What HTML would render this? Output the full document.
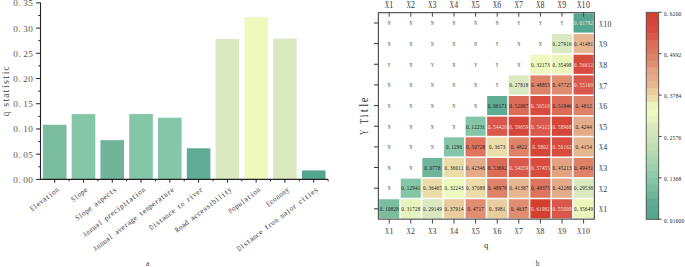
<!DOCTYPE html>
<html><head><meta charset="utf-8"><style>
html,body{margin:0;padding:0;background:#fff;}
body{width:685px;height:267px;overflow:hidden;}
svg{display:block;font-family:"Liberation Serif", serif;}
</style></head><body>
<svg width="685" height="267" viewBox="0 0 685 267">
<rect width="685" height="267" fill="#fff"/>
<rect x="42.90" y="124.78" width="23.6" height="54.62" fill="#7abd9d"/>
<rect x="71.68" y="114.13" width="23.6" height="65.27" fill="#84c6a7"/>
<rect x="100.46" y="140.16" width="23.6" height="39.24" fill="#70b49a"/>
<rect x="129.24" y="114.03" width="23.6" height="65.37" fill="#84c6a7"/>
<rect x="158.02" y="117.71" width="23.6" height="61.69" fill="#84c6a7"/>
<rect x="186.80" y="148.27" width="23.6" height="31.13" fill="#5fab94"/>
<rect x="215.58" y="39.09" width="23.6" height="140.31" fill="#dbe9c0"/>
<rect x="244.36" y="17.12" width="23.6" height="162.28" fill="#eef9be"/>
<rect x="273.14" y="38.59" width="23.6" height="140.81" fill="#dbe9c0"/>
<rect x="301.92" y="170.41" width="23.6" height="8.99" fill="#55a690"/>
<line x1="40.5" y1="2.6" x2="40.5" y2="179.9" stroke="#222" stroke-width="1.1"/>
<line x1="40.0" y1="179.4" x2="328.11" y2="179.4" stroke="#222" stroke-width="1.1"/>
<line x1="36.1" y1="179.40" x2="40.5" y2="179.40" stroke="#222" stroke-width="1"/>
<g transform="translate(33.00,182.90)" font-size="8.0" text-anchor="middle" fill="#555"><text transform="translate(-17.50,0) scale(1.150,1)">0</text><text transform="translate(-13.60,0) scale(1.200,1)">.</text><text transform="translate(-7.50,0) scale(1.150,1)">0</text><text transform="translate(-2.50,0) scale(1.150,1)">0</text></g>
<line x1="38.3" y1="166.79" x2="40.5" y2="166.79" stroke="#222" stroke-width="1"/>
<line x1="36.1" y1="154.18" x2="40.5" y2="154.18" stroke="#222" stroke-width="1"/>
<g transform="translate(33.00,157.68)" font-size="8.0" text-anchor="middle" fill="#555"><text transform="translate(-17.50,0) scale(1.150,1)">0</text><text transform="translate(-13.60,0) scale(1.200,1)">.</text><text transform="translate(-7.50,0) scale(1.150,1)">0</text><text transform="translate(-2.50,0) scale(1.150,1)">5</text></g>
<line x1="38.3" y1="141.57" x2="40.5" y2="141.57" stroke="#222" stroke-width="1"/>
<line x1="36.1" y1="128.96" x2="40.5" y2="128.96" stroke="#222" stroke-width="1"/>
<g transform="translate(33.00,132.46)" font-size="8.0" text-anchor="middle" fill="#555"><text transform="translate(-17.50,0) scale(1.150,1)">0</text><text transform="translate(-13.60,0) scale(1.200,1)">.</text><text transform="translate(-7.50,0) scale(1.150,1)">1</text><text transform="translate(-2.50,0) scale(1.150,1)">0</text></g>
<line x1="38.3" y1="116.35" x2="40.5" y2="116.35" stroke="#222" stroke-width="1"/>
<line x1="36.1" y1="103.74" x2="40.5" y2="103.74" stroke="#222" stroke-width="1"/>
<g transform="translate(33.00,107.24)" font-size="8.0" text-anchor="middle" fill="#555"><text transform="translate(-17.50,0) scale(1.150,1)">0</text><text transform="translate(-13.60,0) scale(1.200,1)">.</text><text transform="translate(-7.50,0) scale(1.150,1)">1</text><text transform="translate(-2.50,0) scale(1.150,1)">5</text></g>
<line x1="38.3" y1="91.13" x2="40.5" y2="91.13" stroke="#222" stroke-width="1"/>
<line x1="36.1" y1="78.52" x2="40.5" y2="78.52" stroke="#222" stroke-width="1"/>
<g transform="translate(33.00,82.02)" font-size="8.0" text-anchor="middle" fill="#555"><text transform="translate(-17.50,0) scale(1.150,1)">0</text><text transform="translate(-13.60,0) scale(1.200,1)">.</text><text transform="translate(-7.50,0) scale(1.150,1)">2</text><text transform="translate(-2.50,0) scale(1.150,1)">0</text></g>
<line x1="38.3" y1="65.91" x2="40.5" y2="65.91" stroke="#222" stroke-width="1"/>
<line x1="36.1" y1="53.30" x2="40.5" y2="53.30" stroke="#222" stroke-width="1"/>
<g transform="translate(33.00,56.80)" font-size="8.0" text-anchor="middle" fill="#555"><text transform="translate(-17.50,0) scale(1.150,1)">0</text><text transform="translate(-13.60,0) scale(1.200,1)">.</text><text transform="translate(-7.50,0) scale(1.150,1)">2</text><text transform="translate(-2.50,0) scale(1.150,1)">5</text></g>
<line x1="38.3" y1="40.69" x2="40.5" y2="40.69" stroke="#222" stroke-width="1"/>
<line x1="36.1" y1="28.08" x2="40.5" y2="28.08" stroke="#222" stroke-width="1"/>
<g transform="translate(33.00,31.58)" font-size="8.0" text-anchor="middle" fill="#555"><text transform="translate(-17.50,0) scale(1.150,1)">0</text><text transform="translate(-13.60,0) scale(1.200,1)">.</text><text transform="translate(-7.50,0) scale(1.150,1)">3</text><text transform="translate(-2.50,0) scale(1.150,1)">0</text></g>
<line x1="38.3" y1="15.47" x2="40.5" y2="15.47" stroke="#222" stroke-width="1"/>
<line x1="36.1" y1="2.86" x2="40.5" y2="2.86" stroke="#222" stroke-width="1"/>
<g transform="translate(33.00,6.36)" font-size="8.0" text-anchor="middle" fill="#555"><text transform="translate(-17.50,0) scale(1.150,1)">0</text><text transform="translate(-13.60,0) scale(1.200,1)">.</text><text transform="translate(-7.50,0) scale(1.150,1)">3</text><text transform="translate(-2.50,0) scale(1.150,1)">5</text></g>
<line x1="54.70" y1="179.4" x2="54.70" y2="182.70000000000002" stroke="#222" stroke-width="1"/>
<line x1="69.09" y1="179.4" x2="69.09" y2="181.3" stroke="#222" stroke-width="1"/>
<line x1="83.48" y1="179.4" x2="83.48" y2="182.70000000000002" stroke="#222" stroke-width="1"/>
<line x1="97.87" y1="179.4" x2="97.87" y2="181.3" stroke="#222" stroke-width="1"/>
<line x1="112.26" y1="179.4" x2="112.26" y2="182.70000000000002" stroke="#222" stroke-width="1"/>
<line x1="126.65" y1="179.4" x2="126.65" y2="181.3" stroke="#222" stroke-width="1"/>
<line x1="141.04" y1="179.4" x2="141.04" y2="182.70000000000002" stroke="#222" stroke-width="1"/>
<line x1="155.43" y1="179.4" x2="155.43" y2="181.3" stroke="#222" stroke-width="1"/>
<line x1="169.82" y1="179.4" x2="169.82" y2="182.70000000000002" stroke="#222" stroke-width="1"/>
<line x1="184.21" y1="179.4" x2="184.21" y2="181.3" stroke="#222" stroke-width="1"/>
<line x1="198.60" y1="179.4" x2="198.60" y2="182.70000000000002" stroke="#222" stroke-width="1"/>
<line x1="212.99" y1="179.4" x2="212.99" y2="181.3" stroke="#222" stroke-width="1"/>
<line x1="227.38" y1="179.4" x2="227.38" y2="182.70000000000002" stroke="#222" stroke-width="1"/>
<line x1="241.77" y1="179.4" x2="241.77" y2="181.3" stroke="#222" stroke-width="1"/>
<line x1="256.16" y1="179.4" x2="256.16" y2="182.70000000000002" stroke="#222" stroke-width="1"/>
<line x1="270.55" y1="179.4" x2="270.55" y2="181.3" stroke="#222" stroke-width="1"/>
<line x1="284.94" y1="179.4" x2="284.94" y2="182.70000000000002" stroke="#222" stroke-width="1"/>
<line x1="299.33" y1="179.4" x2="299.33" y2="181.3" stroke="#222" stroke-width="1"/>
<line x1="313.72" y1="179.4" x2="313.72" y2="182.70000000000002" stroke="#222" stroke-width="1"/>
<line x1="328.11" y1="179.4" x2="328.11" y2="181.3" stroke="#222" stroke-width="1"/>
<g transform="translate(59.50,190.60) rotate(-37.5)" font-size="7.6" text-anchor="middle" fill="#3a3a3a"><text transform="translate(-32.73,0) scale(0.763,1)">E</text><text transform="translate(-28.88,0) scale(1.100,1)">l</text><text transform="translate(-25.02,0) scale(1.050,1)">e</text><text transform="translate(-21.17,0) scale(0.932,1)">v</text><text transform="translate(-17.32,0) scale(1.050,1)">a</text><text transform="translate(-13.47,0) scale(1.100,1)">t</text><text transform="translate(-9.62,0) scale(1.100,1)">i</text><text transform="translate(-5.77,0) scale(0.932,1)">o</text><text transform="translate(-1.92,0) scale(0.932,1)">n</text></g>
<g transform="translate(88.28,190.60) rotate(-37.5)" font-size="7.6" text-anchor="middle" fill="#3a3a3a"><text transform="translate(-17.32,0) scale(0.838,1)">S</text><text transform="translate(-13.47,0) scale(1.100,1)">l</text><text transform="translate(-9.62,0) scale(0.932,1)">o</text><text transform="translate(-5.78,0) scale(0.932,1)">p</text><text transform="translate(-1.93,0) scale(1.050,1)">e</text></g>
<g transform="translate(117.06,190.60) rotate(-37.5)" font-size="7.6" text-anchor="middle" fill="#3a3a3a"><text transform="translate(-48.13,0) scale(0.838,1)">S</text><text transform="translate(-44.28,0) scale(1.100,1)">l</text><text transform="translate(-40.43,0) scale(0.932,1)">o</text><text transform="translate(-36.58,0) scale(0.932,1)">p</text><text transform="translate(-32.73,0) scale(1.050,1)">e</text><text transform="translate(-25.03,0) scale(1.050,1)">a</text><text transform="translate(-21.18,0) scale(1.100,1)">s</text><text transform="translate(-17.33,0) scale(0.932,1)">p</text><text transform="translate(-13.48,0) scale(1.050,1)">e</text><text transform="translate(-9.62,0) scale(1.050,1)">c</text><text transform="translate(-5.78,0) scale(1.100,1)">t</text><text transform="translate(-1.93,0) scale(1.100,1)">s</text></g>
<g transform="translate(145.84,190.60) rotate(-37.5)" font-size="7.6" text-anchor="middle" fill="#3a3a3a"><text transform="translate(-75.08,0) scale(0.645,1)">A</text><text transform="translate(-71.22,0) scale(0.932,1)">n</text><text transform="translate(-67.38,0) scale(0.932,1)">n</text><text transform="translate(-63.52,0) scale(0.932,1)">u</text><text transform="translate(-59.67,0) scale(1.050,1)">a</text><text transform="translate(-55.83,0) scale(1.100,1)">l</text><text transform="translate(-48.12,0) scale(0.932,1)">p</text><text transform="translate(-44.27,0) scale(1.100,1)">r</text><text transform="translate(-40.42,0) scale(1.050,1)">e</text><text transform="translate(-36.57,0) scale(1.050,1)">c</text><text transform="translate(-32.73,0) scale(1.100,1)">i</text><text transform="translate(-28.88,0) scale(0.932,1)">p</text><text transform="translate(-25.02,0) scale(1.100,1)">i</text><text transform="translate(-21.17,0) scale(1.100,1)">t</text><text transform="translate(-17.32,0) scale(1.050,1)">a</text><text transform="translate(-13.48,0) scale(1.100,1)">t</text><text transform="translate(-9.62,0) scale(1.100,1)">i</text><text transform="translate(-5.77,0) scale(0.932,1)">o</text><text transform="translate(-1.92,0) scale(0.932,1)">n</text></g>
<g transform="translate(174.62,190.60) rotate(-37.5)" font-size="7.6" text-anchor="middle" fill="#3a3a3a"><text transform="translate(-98.18,0) scale(0.645,1)">A</text><text transform="translate(-94.33,0) scale(0.932,1)">n</text><text transform="translate(-90.48,0) scale(0.932,1)">n</text><text transform="translate(-86.63,0) scale(0.932,1)">u</text><text transform="translate(-82.78,0) scale(1.050,1)">a</text><text transform="translate(-78.93,0) scale(1.100,1)">l</text><text transform="translate(-71.23,0) scale(1.050,1)">a</text><text transform="translate(-67.38,0) scale(0.932,1)">v</text><text transform="translate(-63.53,0) scale(1.050,1)">e</text><text transform="translate(-59.68,0) scale(1.100,1)">r</text><text transform="translate(-55.83,0) scale(1.050,1)">a</text><text transform="translate(-51.98,0) scale(0.932,1)">g</text><text transform="translate(-48.13,0) scale(1.050,1)">e</text><text transform="translate(-40.43,0) scale(1.100,1)">t</text><text transform="translate(-36.58,0) scale(1.050,1)">e</text><text transform="translate(-32.73,0) scale(0.599,1)">m</text><text transform="translate(-28.88,0) scale(0.932,1)">p</text><text transform="translate(-25.03,0) scale(1.050,1)">e</text><text transform="translate(-21.18,0) scale(1.100,1)">r</text><text transform="translate(-17.33,0) scale(1.050,1)">a</text><text transform="translate(-13.48,0) scale(1.100,1)">t</text><text transform="translate(-9.62,0) scale(0.932,1)">u</text><text transform="translate(-5.78,0) scale(1.100,1)">r</text><text transform="translate(-1.93,0) scale(1.050,1)">e</text></g>
<g transform="translate(203.40,190.60) rotate(-37.5)" font-size="7.6" text-anchor="middle" fill="#3a3a3a"><text transform="translate(-63.53,0) scale(0.645,1)">D</text><text transform="translate(-59.68,0) scale(1.100,1)">i</text><text transform="translate(-55.83,0) scale(1.100,1)">s</text><text transform="translate(-51.98,0) scale(1.100,1)">t</text><text transform="translate(-48.12,0) scale(1.050,1)">a</text><text transform="translate(-44.28,0) scale(0.932,1)">n</text><text transform="translate(-40.42,0) scale(1.050,1)">c</text><text transform="translate(-36.58,0) scale(1.050,1)">e</text><text transform="translate(-28.88,0) scale(1.100,1)">t</text><text transform="translate(-25.02,0) scale(0.932,1)">o</text><text transform="translate(-17.33,0) scale(1.100,1)">r</text><text transform="translate(-13.48,0) scale(1.100,1)">i</text><text transform="translate(-9.62,0) scale(0.932,1)">v</text><text transform="translate(-5.77,0) scale(1.050,1)">e</text><text transform="translate(-1.93,0) scale(1.100,1)">r</text></g>
<g transform="translate(232.18,190.60) rotate(-37.5)" font-size="7.6" text-anchor="middle" fill="#3a3a3a"><text transform="translate(-67.38,0) scale(0.699,1)">R</text><text transform="translate(-63.52,0) scale(0.932,1)">o</text><text transform="translate(-59.67,0) scale(1.050,1)">a</text><text transform="translate(-55.82,0) scale(0.932,1)">d</text><text transform="translate(-48.12,0) scale(1.050,1)">a</text><text transform="translate(-44.27,0) scale(1.050,1)">c</text><text transform="translate(-40.42,0) scale(1.050,1)">c</text><text transform="translate(-36.57,0) scale(1.050,1)">e</text><text transform="translate(-32.72,0) scale(1.100,1)">s</text><text transform="translate(-28.87,0) scale(1.100,1)">s</text><text transform="translate(-25.02,0) scale(1.100,1)">i</text><text transform="translate(-21.17,0) scale(0.932,1)">b</text><text transform="translate(-17.32,0) scale(1.100,1)">i</text><text transform="translate(-13.47,0) scale(1.100,1)">l</text><text transform="translate(-9.62,0) scale(1.100,1)">i</text><text transform="translate(-5.77,0) scale(1.100,1)">t</text><text transform="translate(-1.92,0) scale(0.932,1)">y</text></g>
<g transform="translate(260.96,190.60) rotate(-37.5)" font-size="7.6" text-anchor="middle" fill="#3a3a3a"><text transform="translate(-36.58,0) scale(0.838,1)">P</text><text transform="translate(-32.73,0) scale(0.932,1)">o</text><text transform="translate(-28.88,0) scale(0.932,1)">p</text><text transform="translate(-25.02,0) scale(0.932,1)">u</text><text transform="translate(-21.18,0) scale(1.100,1)">l</text><text transform="translate(-17.32,0) scale(1.050,1)">a</text><text transform="translate(-13.47,0) scale(1.100,1)">t</text><text transform="translate(-9.62,0) scale(1.100,1)">i</text><text transform="translate(-5.77,0) scale(0.932,1)">o</text><text transform="translate(-1.92,0) scale(0.932,1)">n</text></g>
<g transform="translate(289.74,190.60) rotate(-37.5)" font-size="7.6" text-anchor="middle" fill="#3a3a3a"><text transform="translate(-25.02,0) scale(0.763,1)">E</text><text transform="translate(-21.17,0) scale(1.050,1)">c</text><text transform="translate(-17.32,0) scale(0.932,1)">o</text><text transform="translate(-13.47,0) scale(0.932,1)">n</text><text transform="translate(-9.62,0) scale(0.932,1)">o</text><text transform="translate(-5.77,0) scale(0.599,1)">m</text><text transform="translate(-1.92,0) scale(0.932,1)">y</text></g>
<g transform="translate(318.52,190.60) rotate(-37.5)" font-size="7.6" text-anchor="middle" fill="#3a3a3a"><text transform="translate(-98.18,0) scale(0.645,1)">D</text><text transform="translate(-94.33,0) scale(1.100,1)">i</text><text transform="translate(-90.48,0) scale(1.100,1)">s</text><text transform="translate(-86.63,0) scale(1.100,1)">t</text><text transform="translate(-82.78,0) scale(1.050,1)">a</text><text transform="translate(-78.93,0) scale(0.932,1)">n</text><text transform="translate(-75.08,0) scale(1.050,1)">c</text><text transform="translate(-71.23,0) scale(1.050,1)">e</text><text transform="translate(-63.53,0) scale(1.100,1)">f</text><text transform="translate(-59.68,0) scale(1.100,1)">r</text><text transform="translate(-55.83,0) scale(0.932,1)">o</text><text transform="translate(-51.98,0) scale(0.599,1)">m</text><text transform="translate(-44.28,0) scale(0.599,1)">m</text><text transform="translate(-40.43,0) scale(1.050,1)">a</text><text transform="translate(-36.58,0) scale(1.100,1)">j</text><text transform="translate(-32.73,0) scale(0.932,1)">o</text><text transform="translate(-28.88,0) scale(1.100,1)">r</text><text transform="translate(-21.18,0) scale(1.050,1)">c</text><text transform="translate(-17.33,0) scale(1.100,1)">i</text><text transform="translate(-13.48,0) scale(1.100,1)">t</text><text transform="translate(-9.62,0) scale(1.100,1)">i</text><text transform="translate(-5.78,0) scale(1.050,1)">e</text><text transform="translate(-1.93,0) scale(1.100,1)">s</text></g>
<g transform="translate(9.40,91.10) rotate(-90)" font-size="10.0" text-anchor="middle" fill="#444"><text transform="translate(-22.75,0) scale(0.837,1)">q</text><text x="-13.65">s</text><text x="-9.10">t</text><text transform="translate(-4.55,0) scale(0.943,1)">a</text><text x="0.00">t</text><text x="4.55">i</text><text x="9.10">s</text><text x="13.65">t</text><text x="18.20">i</text><text transform="translate(22.75,0) scale(0.943,1)">c</text></g>
<g transform="translate(147.70,266.20)" font-size="7.5" text-anchor="middle" fill="#444"><text x="0.00">a</text></g>
<g transform="translate(389.20,25.28)" font-size="6.3" text-anchor="middle" fill="#333"><text transform="translate(0.00,0) scale(0.607,1)">N</text></g>
<g transform="translate(410.80,25.28)" font-size="6.3" text-anchor="middle" fill="#333"><text transform="translate(0.00,0) scale(0.607,1)">N</text></g>
<g transform="translate(432.40,25.28)" font-size="6.3" text-anchor="middle" fill="#333"><text transform="translate(0.00,0) scale(0.607,1)">N</text></g>
<g transform="translate(454.00,25.28)" font-size="6.3" text-anchor="middle" fill="#333"><text transform="translate(0.00,0) scale(0.607,1)">N</text></g>
<g transform="translate(475.60,25.28)" font-size="6.3" text-anchor="middle" fill="#333"><text transform="translate(0.00,0) scale(0.607,1)">N</text></g>
<g transform="translate(497.20,25.28)" font-size="6.3" text-anchor="middle" fill="#333"><text transform="translate(0.00,0) scale(0.607,1)">N</text></g>
<g transform="translate(518.80,25.28)" font-size="6.3" text-anchor="middle" fill="#333"><text transform="translate(0.00,0) scale(0.607,1)">Y</text></g>
<g transform="translate(540.40,25.28)" font-size="6.3" text-anchor="middle" fill="#333"><text transform="translate(0.00,0) scale(0.607,1)">Y</text></g>
<g transform="translate(562.00,25.28)" font-size="6.3" text-anchor="middle" fill="#333"><text transform="translate(0.00,0) scale(0.607,1)">Y</text></g>
<rect x="573.55" y="13.40" width="20.10" height="19.15" fill="#55a690"/>
<g transform="translate(583.60,25.28)" font-size="6.3" text-anchor="middle" fill="#f6e2dc"><text transform="translate(-8.22,0) scale(0.800,1)">0</text><text x="-6.08">.</text><text transform="translate(-2.74,0) scale(0.800,1)">0</text><text transform="translate(0.00,0) scale(0.800,1)">1</text><text transform="translate(2.74,0) scale(0.800,1)">7</text><text transform="translate(5.48,0) scale(0.800,1)">8</text><text transform="translate(8.22,0) scale(0.800,1)">2</text></g>
<g transform="translate(389.20,45.92)" font-size="6.3" text-anchor="middle" fill="#333"><text transform="translate(0.00,0) scale(0.607,1)">N</text></g>
<g transform="translate(410.80,45.92)" font-size="6.3" text-anchor="middle" fill="#333"><text transform="translate(0.00,0) scale(0.607,1)">N</text></g>
<g transform="translate(432.40,45.92)" font-size="6.3" text-anchor="middle" fill="#333"><text transform="translate(0.00,0) scale(0.607,1)">N</text></g>
<g transform="translate(454.00,45.92)" font-size="6.3" text-anchor="middle" fill="#333"><text transform="translate(0.00,0) scale(0.607,1)">N</text></g>
<g transform="translate(475.60,45.92)" font-size="6.3" text-anchor="middle" fill="#333"><text transform="translate(0.00,0) scale(0.607,1)">N</text></g>
<g transform="translate(497.20,45.92)" font-size="6.3" text-anchor="middle" fill="#333"><text transform="translate(0.00,0) scale(0.607,1)">Y</text></g>
<g transform="translate(518.80,45.92)" font-size="6.3" text-anchor="middle" fill="#333"><text transform="translate(0.00,0) scale(0.607,1)">N</text></g>
<g transform="translate(540.40,45.92)" font-size="6.3" text-anchor="middle" fill="#333"><text transform="translate(0.00,0) scale(0.607,1)">N</text></g>
<rect x="551.95" y="34.05" width="20.10" height="19.15" fill="#dbe9c0"/>
<g transform="translate(562.00,45.92)" font-size="6.3" text-anchor="middle" fill="#1a1a1a"><text transform="translate(-8.22,0) scale(0.800,1)">0</text><text x="-6.08">.</text><text transform="translate(-2.74,0) scale(0.800,1)">2</text><text transform="translate(0.00,0) scale(0.800,1)">7</text><text transform="translate(2.74,0) scale(0.800,1)">9</text><text transform="translate(5.48,0) scale(0.800,1)">1</text><text transform="translate(8.22,0) scale(0.800,1)">6</text></g>
<rect x="573.55" y="34.05" width="20.10" height="19.15" fill="#e6b690"/>
<g transform="translate(583.60,45.92)" font-size="6.3" text-anchor="middle" fill="#1a1a1a"><text transform="translate(-8.22,0) scale(0.800,1)">0</text><text x="-6.08">.</text><text transform="translate(-2.74,0) scale(0.800,1)">4</text><text transform="translate(0.00,0) scale(0.800,1)">1</text><text transform="translate(2.74,0) scale(0.800,1)">4</text><text transform="translate(5.48,0) scale(0.800,1)">8</text><text transform="translate(8.22,0) scale(0.800,1)">1</text></g>
<g transform="translate(389.20,66.57)" font-size="6.3" text-anchor="middle" fill="#333"><text transform="translate(0.00,0) scale(0.607,1)">Y</text></g>
<g transform="translate(410.80,66.57)" font-size="6.3" text-anchor="middle" fill="#333"><text transform="translate(0.00,0) scale(0.607,1)">N</text></g>
<g transform="translate(432.40,66.57)" font-size="6.3" text-anchor="middle" fill="#333"><text transform="translate(0.00,0) scale(0.607,1)">Y</text></g>
<g transform="translate(454.00,66.57)" font-size="6.3" text-anchor="middle" fill="#333"><text transform="translate(0.00,0) scale(0.607,1)">N</text></g>
<g transform="translate(475.60,66.57)" font-size="6.3" text-anchor="middle" fill="#333"><text transform="translate(0.00,0) scale(0.607,1)">Y</text></g>
<g transform="translate(497.20,66.57)" font-size="6.3" text-anchor="middle" fill="#333"><text transform="translate(0.00,0) scale(0.607,1)">Y</text></g>
<g transform="translate(518.80,66.57)" font-size="6.3" text-anchor="middle" fill="#333"><text transform="translate(0.00,0) scale(0.607,1)">N</text></g>
<rect x="530.35" y="54.70" width="20.10" height="19.15" fill="#eef9be"/>
<g transform="translate(540.40,66.57)" font-size="6.3" text-anchor="middle" fill="#1a1a1a"><text transform="translate(-8.22,0) scale(0.800,1)">0</text><text x="-6.08">.</text><text transform="translate(-2.74,0) scale(0.800,1)">3</text><text transform="translate(0.00,0) scale(0.800,1)">2</text><text transform="translate(2.74,0) scale(0.800,1)">1</text><text transform="translate(5.48,0) scale(0.800,1)">7</text><text transform="translate(8.22,0) scale(0.800,1)">3</text></g>
<rect x="551.95" y="54.70" width="20.10" height="19.15" fill="#ecf5bc"/>
<g transform="translate(562.00,66.57)" font-size="6.3" text-anchor="middle" fill="#1a1a1a"><text transform="translate(-8.22,0) scale(0.800,1)">0</text><text x="-6.08">.</text><text transform="translate(-2.74,0) scale(0.800,1)">3</text><text transform="translate(0.00,0) scale(0.800,1)">5</text><text transform="translate(2.74,0) scale(0.800,1)">4</text><text transform="translate(5.48,0) scale(0.800,1)">9</text><text transform="translate(8.22,0) scale(0.800,1)">8</text></g>
<rect x="573.55" y="54.70" width="20.10" height="19.15" fill="#d84b3f"/>
<g transform="translate(583.60,66.57)" font-size="6.3" text-anchor="middle" fill="#f6e2dc"><text transform="translate(-8.22,0) scale(0.800,1)">0</text><text x="-6.08">.</text><text transform="translate(-2.74,0) scale(0.800,1)">5</text><text transform="translate(0.00,0) scale(0.800,1)">6</text><text transform="translate(2.74,0) scale(0.800,1)">6</text><text transform="translate(5.48,0) scale(0.800,1)">1</text><text transform="translate(8.22,0) scale(0.800,1)">2</text></g>
<g transform="translate(389.20,87.22)" font-size="6.3" text-anchor="middle" fill="#333"><text transform="translate(0.00,0) scale(0.607,1)">N</text></g>
<g transform="translate(410.80,87.22)" font-size="6.3" text-anchor="middle" fill="#333"><text transform="translate(0.00,0) scale(0.607,1)">N</text></g>
<g transform="translate(432.40,87.22)" font-size="6.3" text-anchor="middle" fill="#333"><text transform="translate(0.00,0) scale(0.607,1)">N</text></g>
<g transform="translate(454.00,87.22)" font-size="6.3" text-anchor="middle" fill="#333"><text transform="translate(0.00,0) scale(0.607,1)">N</text></g>
<g transform="translate(475.60,87.22)" font-size="6.3" text-anchor="middle" fill="#333"><text transform="translate(0.00,0) scale(0.607,1)">N</text></g>
<g transform="translate(497.20,87.22)" font-size="6.3" text-anchor="middle" fill="#333"><text transform="translate(0.00,0) scale(0.607,1)">Y</text></g>
<rect x="508.75" y="75.35" width="20.10" height="19.15" fill="#dbe9c0"/>
<g transform="translate(518.80,87.22)" font-size="6.3" text-anchor="middle" fill="#1a1a1a"><text transform="translate(-8.22,0) scale(0.800,1)">0</text><text x="-6.08">.</text><text transform="translate(-2.74,0) scale(0.800,1)">2</text><text transform="translate(0.00,0) scale(0.800,1)">7</text><text transform="translate(2.74,0) scale(0.800,1)">8</text><text transform="translate(5.48,0) scale(0.800,1)">1</text><text transform="translate(8.22,0) scale(0.800,1)">8</text></g>
<rect x="530.35" y="75.35" width="20.10" height="19.15" fill="#de836a"/>
<g transform="translate(540.40,87.22)" font-size="6.3" text-anchor="middle" fill="#1a1a1a"><text transform="translate(-8.22,0) scale(0.800,1)">0</text><text x="-6.08">.</text><text transform="translate(-2.74,0) scale(0.800,1)">4</text><text transform="translate(0.00,0) scale(0.800,1)">8</text><text transform="translate(2.74,0) scale(0.800,1)">8</text><text transform="translate(5.48,0) scale(0.800,1)">5</text><text transform="translate(8.22,0) scale(0.800,1)">5</text></g>
<rect x="551.95" y="75.35" width="20.10" height="19.15" fill="#e08d71"/>
<g transform="translate(562.00,87.22)" font-size="6.3" text-anchor="middle" fill="#1a1a1a"><text transform="translate(-8.22,0) scale(0.800,1)">0</text><text x="-6.08">.</text><text transform="translate(-2.74,0) scale(0.800,1)">4</text><text transform="translate(0.00,0) scale(0.800,1)">7</text><text transform="translate(2.74,0) scale(0.800,1)">7</text><text transform="translate(5.48,0) scale(0.800,1)">2</text><text transform="translate(8.22,0) scale(0.800,1)">5</text></g>
<rect x="573.55" y="75.35" width="20.10" height="19.15" fill="#d9584b"/>
<g transform="translate(583.60,87.22)" font-size="6.3" text-anchor="middle" fill="#f6e2dc"><text transform="translate(-8.22,0) scale(0.800,1)">0</text><text x="-6.08">.</text><text transform="translate(-2.74,0) scale(0.800,1)">5</text><text transform="translate(0.00,0) scale(0.800,1)">5</text><text transform="translate(2.74,0) scale(0.800,1)">1</text><text transform="translate(5.48,0) scale(0.800,1)">6</text><text transform="translate(8.22,0) scale(0.800,1)">9</text></g>
<g transform="translate(389.20,107.88)" font-size="6.3" text-anchor="middle" fill="#333"><text transform="translate(0.00,0) scale(0.607,1)">N</text></g>
<g transform="translate(410.80,107.88)" font-size="6.3" text-anchor="middle" fill="#333"><text transform="translate(0.00,0) scale(0.607,1)">N</text></g>
<g transform="translate(432.40,107.88)" font-size="6.3" text-anchor="middle" fill="#333"><text transform="translate(0.00,0) scale(0.607,1)">N</text></g>
<g transform="translate(454.00,107.88)" font-size="6.3" text-anchor="middle" fill="#333"><text transform="translate(0.00,0) scale(0.607,1)">N</text></g>
<g transform="translate(475.60,107.88)" font-size="6.3" text-anchor="middle" fill="#333"><text transform="translate(0.00,0) scale(0.607,1)">N</text></g>
<rect x="487.15" y="96.00" width="20.10" height="19.15" fill="#5fab94"/>
<g transform="translate(497.20,107.88)" font-size="6.3" text-anchor="middle" fill="#1a1a1a"><text transform="translate(-8.22,0) scale(0.800,1)">0</text><text x="-6.08">.</text><text transform="translate(-2.74,0) scale(0.800,1)">0</text><text transform="translate(0.00,0) scale(0.800,1)">6</text><text transform="translate(2.74,0) scale(0.800,1)">1</text><text transform="translate(5.48,0) scale(0.800,1)">7</text><text transform="translate(8.22,0) scale(0.800,1)">1</text></g>
<rect x="508.75" y="96.00" width="20.10" height="19.15" fill="#dc6c58"/>
<g transform="translate(518.80,107.88)" font-size="6.3" text-anchor="middle" fill="#1a1a1a"><text transform="translate(-8.22,0) scale(0.800,1)">0</text><text x="-6.08">.</text><text transform="translate(-2.74,0) scale(0.800,1)">5</text><text transform="translate(0.00,0) scale(0.800,1)">2</text><text transform="translate(2.74,0) scale(0.800,1)">0</text><text transform="translate(5.48,0) scale(0.800,1)">6</text><text transform="translate(8.22,0) scale(0.800,1)">7</text></g>
<rect x="530.35" y="96.00" width="20.10" height="19.15" fill="#d84b3f"/>
<g transform="translate(540.40,107.88)" font-size="6.3" text-anchor="middle" fill="#f6e2dc"><text transform="translate(-8.22,0) scale(0.800,1)">0</text><text x="-6.08">.</text><text transform="translate(-2.74,0) scale(0.800,1)">5</text><text transform="translate(0.00,0) scale(0.800,1)">6</text><text transform="translate(2.74,0) scale(0.800,1)">5</text><text transform="translate(5.48,0) scale(0.800,1)">1</text><text transform="translate(8.22,0) scale(0.800,1)">6</text></g>
<rect x="551.95" y="96.00" width="20.10" height="19.15" fill="#dc6c58"/>
<g transform="translate(562.00,107.88)" font-size="6.3" text-anchor="middle" fill="#1a1a1a"><text transform="translate(-8.22,0) scale(0.800,1)">0</text><text x="-6.08">.</text><text transform="translate(-2.74,0) scale(0.800,1)">5</text><text transform="translate(0.00,0) scale(0.800,1)">1</text><text transform="translate(2.74,0) scale(0.800,1)">9</text><text transform="translate(5.48,0) scale(0.800,1)">4</text><text transform="translate(8.22,0) scale(0.800,1)">6</text></g>
<rect x="573.55" y="96.00" width="20.10" height="19.15" fill="#de836a"/>
<g transform="translate(583.60,107.88)" font-size="6.3" text-anchor="middle" fill="#1a1a1a"><text transform="translate(-6.85,0) scale(0.800,1)">0</text><text x="-4.71">.</text><text transform="translate(-1.37,0) scale(0.800,1)">4</text><text transform="translate(1.37,0) scale(0.800,1)">8</text><text transform="translate(4.11,0) scale(0.800,1)">1</text><text transform="translate(6.85,0) scale(0.800,1)">2</text></g>
<g transform="translate(389.20,128.53)" font-size="6.3" text-anchor="middle" fill="#333"><text transform="translate(0.00,0) scale(0.607,1)">N</text></g>
<g transform="translate(410.80,128.53)" font-size="6.3" text-anchor="middle" fill="#333"><text transform="translate(0.00,0) scale(0.607,1)">N</text></g>
<g transform="translate(432.40,128.53)" font-size="6.3" text-anchor="middle" fill="#333"><text transform="translate(0.00,0) scale(0.607,1)">N</text></g>
<g transform="translate(454.00,128.53)" font-size="6.3" text-anchor="middle" fill="#333"><text transform="translate(0.00,0) scale(0.607,1)">N</text></g>
<rect x="465.55" y="116.65" width="20.10" height="19.15" fill="#84c6a7"/>
<g transform="translate(475.60,128.53)" font-size="6.3" text-anchor="middle" fill="#1a1a1a"><text transform="translate(-8.22,0) scale(0.800,1)">0</text><text x="-6.08">.</text><text transform="translate(-2.74,0) scale(0.800,1)">1</text><text transform="translate(0.00,0) scale(0.800,1)">2</text><text transform="translate(2.74,0) scale(0.800,1)">2</text><text transform="translate(5.48,0) scale(0.800,1)">3</text><text transform="translate(8.22,0) scale(0.800,1)">1</text></g>
<rect x="487.15" y="116.65" width="20.10" height="19.15" fill="#d9584b"/>
<g transform="translate(497.20,128.53)" font-size="6.3" text-anchor="middle" fill="#f6e2dc"><text transform="translate(-8.22,0) scale(0.800,1)">0</text><text x="-6.08">.</text><text transform="translate(-2.74,0) scale(0.800,1)">5</text><text transform="translate(0.00,0) scale(0.800,1)">4</text><text transform="translate(2.74,0) scale(0.800,1)">4</text><text transform="translate(5.48,0) scale(0.800,1)">2</text><text transform="translate(8.22,0) scale(0.800,1)">6</text></g>
<rect x="508.75" y="116.65" width="20.10" height="19.15" fill="#d64539"/>
<g transform="translate(518.80,128.53)" font-size="6.3" text-anchor="middle" fill="#f6e2dc"><text transform="translate(-8.22,0) scale(0.800,1)">0</text><text x="-6.08">.</text><text transform="translate(-2.74,0) scale(0.800,1)">5</text><text transform="translate(0.00,0) scale(0.800,1)">9</text><text transform="translate(2.74,0) scale(0.800,1)">6</text><text transform="translate(5.48,0) scale(0.800,1)">5</text><text transform="translate(8.22,0) scale(0.800,1)">9</text></g>
<rect x="530.35" y="116.65" width="20.10" height="19.15" fill="#d9584b"/>
<g transform="translate(540.40,128.53)" font-size="6.3" text-anchor="middle" fill="#f6e2dc"><text transform="translate(-8.22,0) scale(0.800,1)">0</text><text x="-6.08">.</text><text transform="translate(-2.74,0) scale(0.800,1)">5</text><text transform="translate(0.00,0) scale(0.800,1)">4</text><text transform="translate(2.74,0) scale(0.800,1)">1</text><text transform="translate(5.48,0) scale(0.800,1)">1</text><text transform="translate(8.22,0) scale(0.800,1)">2</text></g>
<rect x="551.95" y="116.65" width="20.10" height="19.15" fill="#d64539"/>
<g transform="translate(562.00,128.53)" font-size="6.3" text-anchor="middle" fill="#f6e2dc"><text transform="translate(-8.22,0) scale(0.800,1)">0</text><text x="-6.08">.</text><text transform="translate(-2.74,0) scale(0.800,1)">5</text><text transform="translate(0.00,0) scale(0.800,1)">8</text><text transform="translate(2.74,0) scale(0.800,1)">9</text><text transform="translate(5.48,0) scale(0.800,1)">6</text><text transform="translate(8.22,0) scale(0.800,1)">8</text></g>
<rect x="573.55" y="116.65" width="20.10" height="19.15" fill="#e4ab8a"/>
<g transform="translate(583.60,128.53)" font-size="6.3" text-anchor="middle" fill="#1a1a1a"><text transform="translate(-6.85,0) scale(0.800,1)">0</text><text x="-4.71">.</text><text transform="translate(-1.37,0) scale(0.800,1)">4</text><text transform="translate(1.37,0) scale(0.800,1)">2</text><text transform="translate(4.11,0) scale(0.800,1)">4</text><text transform="translate(6.85,0) scale(0.800,1)">4</text></g>
<g transform="translate(389.20,149.17)" font-size="6.3" text-anchor="middle" fill="#333"><text transform="translate(0.00,0) scale(0.607,1)">N</text></g>
<g transform="translate(410.80,149.17)" font-size="6.3" text-anchor="middle" fill="#333"><text transform="translate(0.00,0) scale(0.607,1)">N</text></g>
<g transform="translate(432.40,149.17)" font-size="6.3" text-anchor="middle" fill="#333"><text transform="translate(0.00,0) scale(0.607,1)">N</text></g>
<rect x="443.95" y="137.30" width="20.10" height="19.15" fill="#84c6a7"/>
<g transform="translate(454.00,149.17)" font-size="6.3" text-anchor="middle" fill="#1a1a1a"><text transform="translate(-6.85,0) scale(0.800,1)">0</text><text x="-4.71">.</text><text transform="translate(-1.37,0) scale(0.800,1)">1</text><text transform="translate(1.37,0) scale(0.800,1)">2</text><text transform="translate(4.11,0) scale(0.800,1)">9</text><text transform="translate(6.85,0) scale(0.800,1)">6</text></g>
<rect x="465.55" y="137.30" width="20.10" height="19.15" fill="#dc745e"/>
<g transform="translate(475.60,149.17)" font-size="6.3" text-anchor="middle" fill="#1a1a1a"><text transform="translate(-8.22,0) scale(0.800,1)">0</text><text x="-6.08">.</text><text transform="translate(-2.74,0) scale(0.800,1)">5</text><text transform="translate(0.00,0) scale(0.800,1)">0</text><text transform="translate(2.74,0) scale(0.800,1)">7</text><text transform="translate(5.48,0) scale(0.800,1)">2</text><text transform="translate(8.22,0) scale(0.800,1)">8</text></g>
<rect x="487.15" y="137.30" width="20.10" height="19.15" fill="#ecdca9"/>
<g transform="translate(497.20,149.17)" font-size="6.3" text-anchor="middle" fill="#1a1a1a"><text transform="translate(-6.85,0) scale(0.800,1)">0</text><text x="-4.71">.</text><text transform="translate(-1.37,0) scale(0.800,1)">3</text><text transform="translate(1.37,0) scale(0.800,1)">6</text><text transform="translate(4.11,0) scale(0.800,1)">7</text><text transform="translate(6.85,0) scale(0.800,1)">3</text></g>
<rect x="508.75" y="137.30" width="20.10" height="19.15" fill="#de836a"/>
<g transform="translate(518.80,149.17)" font-size="6.3" text-anchor="middle" fill="#1a1a1a"><text transform="translate(-6.85,0) scale(0.800,1)">0</text><text x="-4.71">.</text><text transform="translate(-1.37,0) scale(0.800,1)">4</text><text transform="translate(1.37,0) scale(0.800,1)">8</text><text transform="translate(4.11,0) scale(0.800,1)">2</text><text transform="translate(6.85,0) scale(0.800,1)">2</text></g>
<rect x="530.35" y="137.30" width="20.10" height="19.15" fill="#d64539"/>
<g transform="translate(540.40,149.17)" font-size="6.3" text-anchor="middle" fill="#f6e2dc"><text transform="translate(-6.85,0) scale(0.800,1)">0</text><text x="-4.71">.</text><text transform="translate(-1.37,0) scale(0.800,1)">5</text><text transform="translate(1.37,0) scale(0.800,1)">8</text><text transform="translate(4.11,0) scale(0.800,1)">0</text><text transform="translate(6.85,0) scale(0.800,1)">2</text></g>
<rect x="551.95" y="137.30" width="20.10" height="19.15" fill="#d84b3f"/>
<g transform="translate(562.00,149.17)" font-size="6.3" text-anchor="middle" fill="#f6e2dc"><text transform="translate(-8.22,0) scale(0.800,1)">0</text><text x="-6.08">.</text><text transform="translate(-2.74,0) scale(0.800,1)">5</text><text transform="translate(0.00,0) scale(0.800,1)">6</text><text transform="translate(2.74,0) scale(0.800,1)">1</text><text transform="translate(5.48,0) scale(0.800,1)">6</text><text transform="translate(8.22,0) scale(0.800,1)">2</text></g>
<rect x="573.55" y="137.30" width="20.10" height="19.15" fill="#e6b690"/>
<g transform="translate(583.60,149.17)" font-size="6.3" text-anchor="middle" fill="#1a1a1a"><text transform="translate(-6.85,0) scale(0.800,1)">0</text><text x="-4.71">.</text><text transform="translate(-1.37,0) scale(0.800,1)">4</text><text transform="translate(1.37,0) scale(0.800,1)">1</text><text transform="translate(4.11,0) scale(0.800,1)">5</text><text transform="translate(6.85,0) scale(0.800,1)">4</text></g>
<g transform="translate(389.20,169.82)" font-size="6.3" text-anchor="middle" fill="#333"><text transform="translate(0.00,0) scale(0.607,1)">N</text></g>
<g transform="translate(410.80,169.82)" font-size="6.3" text-anchor="middle" fill="#333"><text transform="translate(0.00,0) scale(0.607,1)">N</text></g>
<rect x="422.35" y="157.95" width="20.10" height="19.15" fill="#70b49a"/>
<g transform="translate(432.40,169.82)" font-size="6.3" text-anchor="middle" fill="#1a1a1a"><text transform="translate(-6.85,0) scale(0.800,1)">0</text><text x="-4.71">.</text><text transform="translate(-1.37,0) scale(0.800,1)">0</text><text transform="translate(1.37,0) scale(0.800,1)">7</text><text transform="translate(4.11,0) scale(0.800,1)">7</text><text transform="translate(6.85,0) scale(0.800,1)">8</text></g>
<rect x="443.95" y="157.95" width="20.10" height="19.15" fill="#ecdca9"/>
<g transform="translate(454.00,169.82)" font-size="6.3" text-anchor="middle" fill="#1a1a1a"><text transform="translate(-8.22,0) scale(0.800,1)">0</text><text x="-6.08">.</text><text transform="translate(-2.74,0) scale(0.800,1)">3</text><text transform="translate(0.00,0) scale(0.800,1)">6</text><text transform="translate(2.74,0) scale(0.800,1)">0</text><text transform="translate(5.48,0) scale(0.800,1)">1</text><text transform="translate(8.22,0) scale(0.800,1)">1</text></g>
<rect x="465.55" y="157.95" width="20.10" height="19.15" fill="#e4ab8a"/>
<g transform="translate(475.60,169.82)" font-size="6.3" text-anchor="middle" fill="#1a1a1a"><text transform="translate(-8.22,0) scale(0.800,1)">0</text><text x="-6.08">.</text><text transform="translate(-2.74,0) scale(0.800,1)">4</text><text transform="translate(0.00,0) scale(0.800,1)">2</text><text transform="translate(2.74,0) scale(0.800,1)">3</text><text transform="translate(5.48,0) scale(0.800,1)">4</text><text transform="translate(8.22,0) scale(0.800,1)">6</text></g>
<rect x="487.15" y="157.95" width="20.10" height="19.15" fill="#dc6c58"/>
<g transform="translate(497.20,169.82)" font-size="6.3" text-anchor="middle" fill="#1a1a1a"><text transform="translate(-8.22,0) scale(0.800,1)">0</text><text x="-6.08">.</text><text transform="translate(-2.74,0) scale(0.800,1)">5</text><text transform="translate(0.00,0) scale(0.800,1)">3</text><text transform="translate(2.74,0) scale(0.800,1)">6</text><text transform="translate(5.48,0) scale(0.800,1)">9</text><text transform="translate(8.22,0) scale(0.800,1)">2</text></g>
<rect x="508.75" y="157.95" width="20.10" height="19.15" fill="#d9584b"/>
<g transform="translate(518.80,169.82)" font-size="6.3" text-anchor="middle" fill="#f6e2dc"><text transform="translate(-8.22,0) scale(0.800,1)">0</text><text x="-6.08">.</text><text transform="translate(-2.74,0) scale(0.800,1)">5</text><text transform="translate(0.00,0) scale(0.800,1)">4</text><text transform="translate(2.74,0) scale(0.800,1)">0</text><text transform="translate(5.48,0) scale(0.800,1)">5</text><text transform="translate(8.22,0) scale(0.800,1)">9</text></g>
<rect x="530.35" y="157.95" width="20.10" height="19.15" fill="#d84b3f"/>
<g transform="translate(540.40,169.82)" font-size="6.3" text-anchor="middle" fill="#f6e2dc"><text transform="translate(-8.22,0) scale(0.800,1)">0</text><text x="-6.08">.</text><text transform="translate(-2.74,0) scale(0.800,1)">5</text><text transform="translate(0.00,0) scale(0.800,1)">7</text><text transform="translate(2.74,0) scale(0.800,1)">4</text><text transform="translate(5.48,0) scale(0.800,1)">5</text><text transform="translate(8.22,0) scale(0.800,1)">5</text></g>
<rect x="551.95" y="157.95" width="20.10" height="19.15" fill="#e3a281"/>
<g transform="translate(562.00,169.82)" font-size="6.3" text-anchor="middle" fill="#1a1a1a"><text transform="translate(-8.22,0) scale(0.800,1)">0</text><text x="-6.08">.</text><text transform="translate(-2.74,0) scale(0.800,1)">4</text><text transform="translate(0.00,0) scale(0.800,1)">5</text><text transform="translate(2.74,0) scale(0.800,1)">2</text><text transform="translate(5.48,0) scale(0.800,1)">1</text><text transform="translate(8.22,0) scale(0.800,1)">3</text></g>
<rect x="573.55" y="157.95" width="20.10" height="19.15" fill="#de836a"/>
<g transform="translate(583.60,169.82)" font-size="6.3" text-anchor="middle" fill="#1a1a1a"><text transform="translate(-8.22,0) scale(0.800,1)">0</text><text x="-6.08">.</text><text transform="translate(-2.74,0) scale(0.800,1)">4</text><text transform="translate(0.00,0) scale(0.800,1)">9</text><text transform="translate(2.74,0) scale(0.800,1)">4</text><text transform="translate(5.48,0) scale(0.800,1)">3</text><text transform="translate(8.22,0) scale(0.800,1)">1</text></g>
<g transform="translate(389.20,190.47)" font-size="6.3" text-anchor="middle" fill="#333"><text transform="translate(0.00,0) scale(0.607,1)">N</text></g>
<rect x="400.75" y="178.60" width="20.10" height="19.15" fill="#84c6a7"/>
<g transform="translate(410.80,190.47)" font-size="6.3" text-anchor="middle" fill="#1a1a1a"><text transform="translate(-8.22,0) scale(0.800,1)">0</text><text x="-6.08">.</text><text transform="translate(-2.74,0) scale(0.800,1)">1</text><text transform="translate(0.00,0) scale(0.800,1)">2</text><text transform="translate(2.74,0) scale(0.800,1)">9</text><text transform="translate(5.48,0) scale(0.800,1)">4</text><text transform="translate(8.22,0) scale(0.800,1)">1</text></g>
<rect x="422.35" y="178.60" width="20.10" height="19.15" fill="#ecdca9"/>
<g transform="translate(432.40,190.47)" font-size="6.3" text-anchor="middle" fill="#1a1a1a"><text transform="translate(-8.22,0) scale(0.800,1)">0</text><text x="-6.08">.</text><text transform="translate(-2.74,0) scale(0.800,1)">3</text><text transform="translate(0.00,0) scale(0.800,1)">6</text><text transform="translate(2.74,0) scale(0.800,1)">4</text><text transform="translate(5.48,0) scale(0.800,1)">6</text><text transform="translate(8.22,0) scale(0.800,1)">5</text></g>
<rect x="443.95" y="178.60" width="20.10" height="19.15" fill="#eef9be"/>
<g transform="translate(454.00,190.47)" font-size="6.3" text-anchor="middle" fill="#1a1a1a"><text transform="translate(-8.22,0) scale(0.800,1)">0</text><text x="-6.08">.</text><text transform="translate(-2.74,0) scale(0.800,1)">3</text><text transform="translate(0.00,0) scale(0.800,1)">2</text><text transform="translate(2.74,0) scale(0.800,1)">2</text><text transform="translate(5.48,0) scale(0.800,1)">4</text><text transform="translate(8.22,0) scale(0.800,1)">3</text></g>
<rect x="465.55" y="178.60" width="20.10" height="19.15" fill="#ecdca9"/>
<g transform="translate(475.60,190.47)" font-size="6.3" text-anchor="middle" fill="#1a1a1a"><text transform="translate(-8.22,0) scale(0.800,1)">0</text><text x="-6.08">.</text><text transform="translate(-2.74,0) scale(0.800,1)">3</text><text transform="translate(0.00,0) scale(0.800,1)">7</text><text transform="translate(2.74,0) scale(0.800,1)">0</text><text transform="translate(5.48,0) scale(0.800,1)">8</text><text transform="translate(8.22,0) scale(0.800,1)">8</text></g>
<rect x="487.15" y="178.60" width="20.10" height="19.15" fill="#de836a"/>
<g transform="translate(497.20,190.47)" font-size="6.3" text-anchor="middle" fill="#1a1a1a"><text transform="translate(-8.22,0) scale(0.800,1)">0</text><text x="-6.08">.</text><text transform="translate(-2.74,0) scale(0.800,1)">4</text><text transform="translate(0.00,0) scale(0.800,1)">8</text><text transform="translate(2.74,0) scale(0.800,1)">9</text><text transform="translate(5.48,0) scale(0.800,1)">7</text><text transform="translate(8.22,0) scale(0.800,1)">8</text></g>
<rect x="508.75" y="178.60" width="20.10" height="19.15" fill="#e6b690"/>
<g transform="translate(518.80,190.47)" font-size="6.3" text-anchor="middle" fill="#1a1a1a"><text transform="translate(-8.22,0) scale(0.800,1)">0</text><text x="-6.08">.</text><text transform="translate(-2.74,0) scale(0.800,1)">4</text><text transform="translate(0.00,0) scale(0.800,1)">1</text><text transform="translate(2.74,0) scale(0.800,1)">3</text><text transform="translate(5.48,0) scale(0.800,1)">8</text><text transform="translate(8.22,0) scale(0.800,1)">7</text></g>
<rect x="530.35" y="178.60" width="20.10" height="19.15" fill="#dc745e"/>
<g transform="translate(540.40,190.47)" font-size="6.3" text-anchor="middle" fill="#1a1a1a"><text transform="translate(-8.22,0) scale(0.800,1)">0</text><text x="-6.08">.</text><text transform="translate(-2.74,0) scale(0.800,1)">4</text><text transform="translate(0.00,0) scale(0.800,1)">9</text><text transform="translate(2.74,0) scale(0.800,1)">3</text><text transform="translate(5.48,0) scale(0.800,1)">7</text><text transform="translate(8.22,0) scale(0.800,1)">5</text></g>
<rect x="551.95" y="178.60" width="20.10" height="19.15" fill="#e4ab8a"/>
<g transform="translate(562.00,190.47)" font-size="6.3" text-anchor="middle" fill="#1a1a1a"><text transform="translate(-8.22,0) scale(0.800,1)">0</text><text x="-6.08">.</text><text transform="translate(-2.74,0) scale(0.800,1)">4</text><text transform="translate(0.00,0) scale(0.800,1)">2</text><text transform="translate(2.74,0) scale(0.800,1)">2</text><text transform="translate(5.48,0) scale(0.800,1)">8</text><text transform="translate(8.22,0) scale(0.800,1)">8</text></g>
<rect x="573.55" y="178.60" width="20.10" height="19.15" fill="#dbe9c0"/>
<g transform="translate(583.60,190.47)" font-size="6.3" text-anchor="middle" fill="#1a1a1a"><text transform="translate(-8.22,0) scale(0.800,1)">0</text><text x="-6.08">.</text><text transform="translate(-2.74,0) scale(0.800,1)">2</text><text transform="translate(0.00,0) scale(0.800,1)">9</text><text transform="translate(2.74,0) scale(0.800,1)">5</text><text transform="translate(5.48,0) scale(0.800,1)">3</text><text transform="translate(8.22,0) scale(0.800,1)">8</text></g>
<rect x="379.15" y="199.25" width="20.10" height="19.15" fill="#7abd9d"/>
<g transform="translate(389.20,211.12)" font-size="6.3" text-anchor="middle" fill="#1a1a1a"><text transform="translate(-8.22,0) scale(0.800,1)">0</text><text x="-6.08">.</text><text transform="translate(-2.74,0) scale(0.800,1)">1</text><text transform="translate(0.00,0) scale(0.800,1)">0</text><text transform="translate(2.74,0) scale(0.800,1)">8</text><text transform="translate(5.48,0) scale(0.800,1)">2</text><text transform="translate(8.22,0) scale(0.800,1)">8</text></g>
<rect x="400.75" y="199.25" width="20.10" height="19.15" fill="#e8f4bf"/>
<g transform="translate(410.80,211.12)" font-size="6.3" text-anchor="middle" fill="#1a1a1a"><text transform="translate(-8.22,0) scale(0.800,1)">0</text><text x="-6.08">.</text><text transform="translate(-2.74,0) scale(0.800,1)">3</text><text transform="translate(0.00,0) scale(0.800,1)">1</text><text transform="translate(2.74,0) scale(0.800,1)">7</text><text transform="translate(5.48,0) scale(0.800,1)">2</text><text transform="translate(8.22,0) scale(0.800,1)">8</text></g>
<rect x="422.35" y="199.25" width="20.10" height="19.15" fill="#dbe9c0"/>
<g transform="translate(432.40,211.12)" font-size="6.3" text-anchor="middle" fill="#1a1a1a"><text transform="translate(-8.22,0) scale(0.800,1)">0</text><text x="-6.08">.</text><text transform="translate(-2.74,0) scale(0.800,1)">2</text><text transform="translate(0.00,0) scale(0.800,1)">9</text><text transform="translate(2.74,0) scale(0.800,1)">1</text><text transform="translate(5.48,0) scale(0.800,1)">4</text><text transform="translate(8.22,0) scale(0.800,1)">9</text></g>
<rect x="443.95" y="199.25" width="20.10" height="19.15" fill="#eacd9e"/>
<g transform="translate(454.00,211.12)" font-size="6.3" text-anchor="middle" fill="#1a1a1a"><text transform="translate(-8.22,0) scale(0.800,1)">0</text><text x="-6.08">.</text><text transform="translate(-2.74,0) scale(0.800,1)">3</text><text transform="translate(0.00,0) scale(0.800,1)">7</text><text transform="translate(2.74,0) scale(0.800,1)">9</text><text transform="translate(5.48,0) scale(0.800,1)">1</text><text transform="translate(8.22,0) scale(0.800,1)">4</text></g>
<rect x="465.55" y="199.25" width="20.10" height="19.15" fill="#e08d71"/>
<g transform="translate(475.60,211.12)" font-size="6.3" text-anchor="middle" fill="#1a1a1a"><text transform="translate(-6.85,0) scale(0.800,1)">0</text><text x="-4.71">.</text><text transform="translate(-1.37,0) scale(0.800,1)">4</text><text transform="translate(1.37,0) scale(0.800,1)">7</text><text transform="translate(4.11,0) scale(0.800,1)">1</text><text transform="translate(6.85,0) scale(0.800,1)">7</text></g>
<rect x="487.15" y="199.25" width="20.10" height="19.15" fill="#eacd9e"/>
<g transform="translate(497.20,211.12)" font-size="6.3" text-anchor="middle" fill="#1a1a1a"><text transform="translate(-6.85,0) scale(0.800,1)">0</text><text x="-4.71">.</text><text transform="translate(-1.37,0) scale(0.800,1)">3</text><text transform="translate(1.37,0) scale(0.800,1)">9</text><text transform="translate(4.11,0) scale(0.800,1)">8</text><text transform="translate(6.85,0) scale(0.800,1)">1</text></g>
<rect x="508.75" y="199.25" width="20.10" height="19.15" fill="#e08d71"/>
<g transform="translate(518.80,211.12)" font-size="6.3" text-anchor="middle" fill="#1a1a1a"><text transform="translate(-6.85,0) scale(0.800,1)">0</text><text x="-4.71">.</text><text transform="translate(-1.37,0) scale(0.800,1)">4</text><text transform="translate(1.37,0) scale(0.800,1)">6</text><text transform="translate(4.11,0) scale(0.800,1)">3</text><text transform="translate(6.85,0) scale(0.800,1)">7</text></g>
<rect x="530.35" y="199.25" width="20.10" height="19.15" fill="#d43f2f"/>
<g transform="translate(540.40,211.12)" font-size="6.3" text-anchor="middle" fill="#f6e2dc"><text transform="translate(-8.22,0) scale(0.800,1)">0</text><text x="-6.08">.</text><text transform="translate(-2.74,0) scale(0.800,1)">6</text><text transform="translate(0.00,0) scale(0.800,1)">1</text><text transform="translate(2.74,0) scale(0.800,1)">9</text><text transform="translate(5.48,0) scale(0.800,1)">8</text><text transform="translate(8.22,0) scale(0.800,1)">2</text></g>
<rect x="551.95" y="199.25" width="20.10" height="19.15" fill="#d9584b"/>
<g transform="translate(562.00,211.12)" font-size="6.3" text-anchor="middle" fill="#f6e2dc"><text transform="translate(-8.22,0) scale(0.800,1)">0</text><text x="-6.08">.</text><text transform="translate(-2.74,0) scale(0.800,1)">5</text><text transform="translate(0.00,0) scale(0.800,1)">5</text><text transform="translate(2.74,0) scale(0.800,1)">0</text><text transform="translate(5.48,0) scale(0.800,1)">9</text><text transform="translate(8.22,0) scale(0.800,1)">9</text></g>
<rect x="573.55" y="199.25" width="20.10" height="19.15" fill="#ecf5bc"/>
<g transform="translate(583.60,211.12)" font-size="6.3" text-anchor="middle" fill="#1a1a1a"><text transform="translate(-8.22,0) scale(0.800,1)">0</text><text x="-6.08">.</text><text transform="translate(-2.74,0) scale(0.800,1)">3</text><text transform="translate(0.00,0) scale(0.800,1)">5</text><text transform="translate(2.74,0) scale(0.800,1)">6</text><text transform="translate(5.48,0) scale(0.800,1)">4</text><text transform="translate(8.22,0) scale(0.800,1)">9</text></g>
<rect x="378.4" y="12.65" width="216.00" height="206.50" fill="none" stroke="#555" stroke-width="1.2"/>
<line x1="389.20" y1="12.65" x2="389.20" y2="16.65" stroke="#444" stroke-width="1"/>
<line x1="389.20" y1="219.15" x2="389.20" y2="223.55" stroke="#444" stroke-width="1"/>
<g transform="translate(389.20,7.90)" font-size="9.4" text-anchor="middle" fill="#333"><text transform="translate(-2.15,0) scale(0.583,1)">X</text><text transform="translate(2.15,0) scale(0.842,1)">1</text></g>
<g transform="translate(389.20,234.10)" font-size="9.2" text-anchor="middle" fill="#333"><text transform="translate(-2.15,0) scale(0.595,1)">X</text><text transform="translate(2.15,0) scale(0.860,1)">1</text></g>
<line x1="410.80" y1="12.65" x2="410.80" y2="16.65" stroke="#444" stroke-width="1"/>
<line x1="410.80" y1="219.15" x2="410.80" y2="223.55" stroke="#444" stroke-width="1"/>
<g transform="translate(410.80,7.90)" font-size="9.4" text-anchor="middle" fill="#333"><text transform="translate(-2.15,0) scale(0.583,1)">X</text><text transform="translate(2.15,0) scale(0.842,1)">2</text></g>
<g transform="translate(410.80,234.10)" font-size="9.2" text-anchor="middle" fill="#333"><text transform="translate(-2.15,0) scale(0.595,1)">X</text><text transform="translate(2.15,0) scale(0.860,1)">2</text></g>
<line x1="432.40" y1="12.65" x2="432.40" y2="16.65" stroke="#444" stroke-width="1"/>
<line x1="432.40" y1="219.15" x2="432.40" y2="223.55" stroke="#444" stroke-width="1"/>
<g transform="translate(432.40,7.90)" font-size="9.4" text-anchor="middle" fill="#333"><text transform="translate(-2.15,0) scale(0.583,1)">X</text><text transform="translate(2.15,0) scale(0.842,1)">3</text></g>
<g transform="translate(432.40,234.10)" font-size="9.2" text-anchor="middle" fill="#333"><text transform="translate(-2.15,0) scale(0.595,1)">X</text><text transform="translate(2.15,0) scale(0.860,1)">3</text></g>
<line x1="454.00" y1="12.65" x2="454.00" y2="16.65" stroke="#444" stroke-width="1"/>
<line x1="454.00" y1="219.15" x2="454.00" y2="223.55" stroke="#444" stroke-width="1"/>
<g transform="translate(454.00,7.90)" font-size="9.4" text-anchor="middle" fill="#333"><text transform="translate(-2.15,0) scale(0.583,1)">X</text><text transform="translate(2.15,0) scale(0.842,1)">4</text></g>
<g transform="translate(454.00,234.10)" font-size="9.2" text-anchor="middle" fill="#333"><text transform="translate(-2.15,0) scale(0.595,1)">X</text><text transform="translate(2.15,0) scale(0.860,1)">4</text></g>
<line x1="475.60" y1="12.65" x2="475.60" y2="16.65" stroke="#444" stroke-width="1"/>
<line x1="475.60" y1="219.15" x2="475.60" y2="223.55" stroke="#444" stroke-width="1"/>
<g transform="translate(475.60,7.90)" font-size="9.4" text-anchor="middle" fill="#333"><text transform="translate(-2.15,0) scale(0.583,1)">X</text><text transform="translate(2.15,0) scale(0.842,1)">5</text></g>
<g transform="translate(475.60,234.10)" font-size="9.2" text-anchor="middle" fill="#333"><text transform="translate(-2.15,0) scale(0.595,1)">X</text><text transform="translate(2.15,0) scale(0.860,1)">5</text></g>
<line x1="497.20" y1="12.65" x2="497.20" y2="16.65" stroke="#444" stroke-width="1"/>
<line x1="497.20" y1="219.15" x2="497.20" y2="223.55" stroke="#444" stroke-width="1"/>
<g transform="translate(497.20,7.90)" font-size="9.4" text-anchor="middle" fill="#333"><text transform="translate(-2.15,0) scale(0.583,1)">X</text><text transform="translate(2.15,0) scale(0.842,1)">6</text></g>
<g transform="translate(497.20,234.10)" font-size="9.2" text-anchor="middle" fill="#333"><text transform="translate(-2.15,0) scale(0.595,1)">X</text><text transform="translate(2.15,0) scale(0.860,1)">6</text></g>
<line x1="518.80" y1="12.65" x2="518.80" y2="16.65" stroke="#444" stroke-width="1"/>
<line x1="518.80" y1="219.15" x2="518.80" y2="223.55" stroke="#444" stroke-width="1"/>
<g transform="translate(518.80,7.90)" font-size="9.4" text-anchor="middle" fill="#333"><text transform="translate(-2.15,0) scale(0.583,1)">X</text><text transform="translate(2.15,0) scale(0.842,1)">7</text></g>
<g transform="translate(518.80,234.10)" font-size="9.2" text-anchor="middle" fill="#333"><text transform="translate(-2.15,0) scale(0.595,1)">X</text><text transform="translate(2.15,0) scale(0.860,1)">7</text></g>
<line x1="540.40" y1="12.65" x2="540.40" y2="16.65" stroke="#444" stroke-width="1"/>
<line x1="540.40" y1="219.15" x2="540.40" y2="223.55" stroke="#444" stroke-width="1"/>
<g transform="translate(540.40,7.90)" font-size="9.4" text-anchor="middle" fill="#333"><text transform="translate(-2.15,0) scale(0.583,1)">X</text><text transform="translate(2.15,0) scale(0.842,1)">8</text></g>
<g transform="translate(540.40,234.10)" font-size="9.2" text-anchor="middle" fill="#333"><text transform="translate(-2.15,0) scale(0.595,1)">X</text><text transform="translate(2.15,0) scale(0.860,1)">8</text></g>
<line x1="562.00" y1="12.65" x2="562.00" y2="16.65" stroke="#444" stroke-width="1"/>
<line x1="562.00" y1="219.15" x2="562.00" y2="223.55" stroke="#444" stroke-width="1"/>
<g transform="translate(562.00,7.90)" font-size="9.4" text-anchor="middle" fill="#333"><text transform="translate(-2.15,0) scale(0.583,1)">X</text><text transform="translate(2.15,0) scale(0.842,1)">9</text></g>
<g transform="translate(562.00,234.10)" font-size="9.2" text-anchor="middle" fill="#333"><text transform="translate(-2.15,0) scale(0.595,1)">X</text><text transform="translate(2.15,0) scale(0.860,1)">9</text></g>
<line x1="583.60" y1="12.65" x2="583.60" y2="16.65" stroke="#444" stroke-width="1"/>
<line x1="583.60" y1="219.15" x2="583.60" y2="223.55" stroke="#444" stroke-width="1"/>
<g transform="translate(583.60,7.90)" font-size="9.4" text-anchor="middle" fill="#333"><text transform="translate(-4.30,0) scale(0.583,1)">X</text><text transform="translate(0.00,0) scale(0.842,1)">1</text><text transform="translate(4.30,0) scale(0.842,1)">0</text></g>
<g transform="translate(583.60,234.10)" font-size="9.2" text-anchor="middle" fill="#333"><text transform="translate(-4.30,0) scale(0.595,1)">X</text><text transform="translate(0.00,0) scale(0.860,1)">1</text><text transform="translate(4.30,0) scale(0.860,1)">0</text></g>
<line x1="374.0" y1="22.98" x2="378.4" y2="22.98" stroke="#333" stroke-width="1"/>
<g transform="translate(598.80,26.58)" font-size="9.2" text-anchor="middle" fill="#333"><text transform="translate(2.15,0) scale(0.595,1)">X</text><text transform="translate(6.45,0) scale(0.860,1)">1</text><text transform="translate(10.75,0) scale(0.860,1)">0</text></g>
<line x1="374.0" y1="43.62" x2="378.4" y2="43.62" stroke="#333" stroke-width="1"/>
<g transform="translate(598.80,47.23)" font-size="9.2" text-anchor="middle" fill="#333"><text transform="translate(2.15,0) scale(0.595,1)">X</text><text transform="translate(6.45,0) scale(0.860,1)">9</text></g>
<line x1="374.0" y1="64.28" x2="378.4" y2="64.28" stroke="#333" stroke-width="1"/>
<g transform="translate(598.80,67.88)" font-size="9.2" text-anchor="middle" fill="#333"><text transform="translate(2.15,0) scale(0.595,1)">X</text><text transform="translate(6.45,0) scale(0.860,1)">8</text></g>
<line x1="374.0" y1="84.92" x2="378.4" y2="84.92" stroke="#333" stroke-width="1"/>
<g transform="translate(598.80,88.52)" font-size="9.2" text-anchor="middle" fill="#333"><text transform="translate(2.15,0) scale(0.595,1)">X</text><text transform="translate(6.45,0) scale(0.860,1)">7</text></g>
<line x1="374.0" y1="105.58" x2="378.4" y2="105.58" stroke="#333" stroke-width="1"/>
<g transform="translate(598.80,109.17)" font-size="9.2" text-anchor="middle" fill="#333"><text transform="translate(2.15,0) scale(0.595,1)">X</text><text transform="translate(6.45,0) scale(0.860,1)">6</text></g>
<line x1="374.0" y1="126.22" x2="378.4" y2="126.22" stroke="#333" stroke-width="1"/>
<g transform="translate(598.80,129.82)" font-size="9.2" text-anchor="middle" fill="#333"><text transform="translate(2.15,0) scale(0.595,1)">X</text><text transform="translate(6.45,0) scale(0.860,1)">5</text></g>
<line x1="374.0" y1="146.88" x2="378.4" y2="146.88" stroke="#333" stroke-width="1"/>
<g transform="translate(598.80,150.47)" font-size="9.2" text-anchor="middle" fill="#333"><text transform="translate(2.15,0) scale(0.595,1)">X</text><text transform="translate(6.45,0) scale(0.860,1)">4</text></g>
<line x1="374.0" y1="167.53" x2="378.4" y2="167.53" stroke="#333" stroke-width="1"/>
<g transform="translate(598.80,171.12)" font-size="9.2" text-anchor="middle" fill="#333"><text transform="translate(2.15,0) scale(0.595,1)">X</text><text transform="translate(6.45,0) scale(0.860,1)">3</text></g>
<line x1="374.0" y1="188.17" x2="378.4" y2="188.17" stroke="#333" stroke-width="1"/>
<g transform="translate(598.80,191.77)" font-size="9.2" text-anchor="middle" fill="#333"><text transform="translate(2.15,0) scale(0.595,1)">X</text><text transform="translate(6.45,0) scale(0.860,1)">2</text></g>
<line x1="374.0" y1="208.82" x2="378.4" y2="208.82" stroke="#333" stroke-width="1"/>
<g transform="translate(598.80,212.42)" font-size="9.2" text-anchor="middle" fill="#333"><text transform="translate(2.15,0) scale(0.595,1)">X</text><text transform="translate(6.45,0) scale(0.860,1)">1</text></g>
<g transform="translate(367.60,116.00) rotate(-90)" font-size="11.5" text-anchor="middle" fill="#333"><text transform="translate(-16.20,0) scale(0.598,1)">Y</text><text transform="translate(-5.40,0) scale(0.707,1)">T</text><text x="0.00">i</text><text x="5.40">t</text><text x="10.80">l</text><text transform="translate(16.20,0) scale(0.973,1)">e</text></g>
<g transform="translate(486.20,248.00)" font-size="8.5" text-anchor="middle" fill="#333"><text x="0.00">q</text></g>
<g transform="translate(537.70,266.20)" font-size="7.5" text-anchor="middle" fill="#444"><text transform="translate(0.00,0) scale(0.981,1)">b</text></g>
<rect x="646.2" y="12.30" width="12.50" height="206.90" fill="#d43f2f"/>
<rect x="646.2" y="19.20" width="12.50" height="200.00" fill="#d64539"/>
<rect x="646.2" y="26.09" width="12.50" height="193.11" fill="#d84b3f"/>
<rect x="646.2" y="32.99" width="12.50" height="186.21" fill="#d9584b"/>
<rect x="646.2" y="39.89" width="12.50" height="179.31" fill="#dc6c58"/>
<rect x="646.2" y="46.78" width="12.50" height="172.42" fill="#dc745e"/>
<rect x="646.2" y="53.68" width="12.50" height="165.52" fill="#de836a"/>
<rect x="646.2" y="60.58" width="12.50" height="158.62" fill="#e08d71"/>
<rect x="646.2" y="67.47" width="12.50" height="151.73" fill="#e3a281"/>
<rect x="646.2" y="74.37" width="12.50" height="144.83" fill="#e4ab8a"/>
<rect x="646.2" y="81.27" width="12.50" height="137.93" fill="#e6b690"/>
<rect x="646.2" y="88.16" width="12.50" height="131.04" fill="#eacd9e"/>
<rect x="646.2" y="95.06" width="12.50" height="124.14" fill="#ecdca9"/>
<rect x="646.2" y="101.96" width="12.50" height="117.24" fill="#ecf5bc"/>
<rect x="646.2" y="108.85" width="12.50" height="110.35" fill="#eef9be"/>
<rect x="646.2" y="115.75" width="12.50" height="103.45" fill="#e8f4bf"/>
<rect x="646.2" y="122.65" width="12.50" height="96.55" fill="#dbe9c0"/>
<rect x="646.2" y="129.54" width="12.50" height="89.66" fill="#d2e6bc"/>
<rect x="646.2" y="136.44" width="12.50" height="82.76" fill="#c9e2b8"/>
<rect x="646.2" y="143.34" width="12.50" height="75.86" fill="#bfdeb4"/>
<rect x="646.2" y="150.23" width="12.50" height="68.97" fill="#b5dab1"/>
<rect x="646.2" y="157.13" width="12.50" height="62.07" fill="#a9d5ae"/>
<rect x="646.2" y="164.03" width="12.50" height="55.17" fill="#9cd0ac"/>
<rect x="646.2" y="170.92" width="12.50" height="48.28" fill="#90cbaa"/>
<rect x="646.2" y="177.82" width="12.50" height="41.38" fill="#84c6a7"/>
<rect x="646.2" y="184.72" width="12.50" height="34.48" fill="#7abd9d"/>
<rect x="646.2" y="191.61" width="12.50" height="27.59" fill="#70b49a"/>
<rect x="646.2" y="198.51" width="12.50" height="20.69" fill="#5fab94"/>
<rect x="646.2" y="205.41" width="12.50" height="13.79" fill="#5aa892"/>
<rect x="646.2" y="212.30" width="12.50" height="6.90" fill="#55a690"/>
<rect x="646.2" y="12.3" width="12.50" height="206.90" fill="none" stroke="#555" stroke-width="0.9"/>
<line x1="658.7" y1="219.20" x2="661.7" y2="219.20" stroke="#333" stroke-width="0.9"/>
<g transform="translate(663.90,222.60)" font-size="6.2" text-anchor="middle" fill="#222"><text transform="translate(1.46,0) scale(0.867,1)">0</text><text x="3.74">.</text><text transform="translate(7.30,0) scale(0.867,1)">0</text><text transform="translate(10.22,0) scale(0.867,1)">1</text><text transform="translate(13.14,0) scale(0.867,1)">6</text><text transform="translate(16.06,0) scale(0.867,1)">0</text><text transform="translate(18.98,0) scale(0.867,1)">0</text></g>
<line x1="658.7" y1="177.82" x2="661.7" y2="177.82" stroke="#333" stroke-width="0.9"/>
<g transform="translate(663.90,181.22)" font-size="6.2" text-anchor="middle" fill="#222"><text transform="translate(1.46,0) scale(0.867,1)">0</text><text x="3.74">.</text><text transform="translate(7.30,0) scale(0.867,1)">1</text><text transform="translate(10.22,0) scale(0.867,1)">3</text><text transform="translate(13.14,0) scale(0.867,1)">6</text><text transform="translate(16.06,0) scale(0.867,1)">8</text></g>
<line x1="658.7" y1="136.44" x2="661.7" y2="136.44" stroke="#333" stroke-width="0.9"/>
<g transform="translate(663.90,139.84)" font-size="6.2" text-anchor="middle" fill="#222"><text transform="translate(1.46,0) scale(0.867,1)">0</text><text x="3.74">.</text><text transform="translate(7.30,0) scale(0.867,1)">2</text><text transform="translate(10.22,0) scale(0.867,1)">5</text><text transform="translate(13.14,0) scale(0.867,1)">7</text><text transform="translate(16.06,0) scale(0.867,1)">6</text></g>
<line x1="658.7" y1="95.06" x2="661.7" y2="95.06" stroke="#333" stroke-width="0.9"/>
<g transform="translate(663.90,98.46)" font-size="6.2" text-anchor="middle" fill="#222"><text transform="translate(1.46,0) scale(0.867,1)">0</text><text x="3.74">.</text><text transform="translate(7.30,0) scale(0.867,1)">3</text><text transform="translate(10.22,0) scale(0.867,1)">7</text><text transform="translate(13.14,0) scale(0.867,1)">8</text><text transform="translate(16.06,0) scale(0.867,1)">4</text></g>
<line x1="658.7" y1="53.68" x2="661.7" y2="53.68" stroke="#333" stroke-width="0.9"/>
<g transform="translate(663.90,57.08)" font-size="6.2" text-anchor="middle" fill="#222"><text transform="translate(1.46,0) scale(0.867,1)">0</text><text x="3.74">.</text><text transform="translate(7.30,0) scale(0.867,1)">4</text><text transform="translate(10.22,0) scale(0.867,1)">9</text><text transform="translate(13.14,0) scale(0.867,1)">9</text><text transform="translate(16.06,0) scale(0.867,1)">2</text></g>
<line x1="658.7" y1="12.30" x2="661.7" y2="12.30" stroke="#333" stroke-width="0.9"/>
<g transform="translate(663.90,15.70)" font-size="6.2" text-anchor="middle" fill="#222"><text transform="translate(1.46,0) scale(0.867,1)">0</text><text x="3.74">.</text><text transform="translate(7.30,0) scale(0.867,1)">6</text><text transform="translate(10.22,0) scale(0.867,1)">2</text><text transform="translate(13.14,0) scale(0.867,1)">0</text><text transform="translate(16.06,0) scale(0.867,1)">0</text></g>
</svg>
</body></html>
